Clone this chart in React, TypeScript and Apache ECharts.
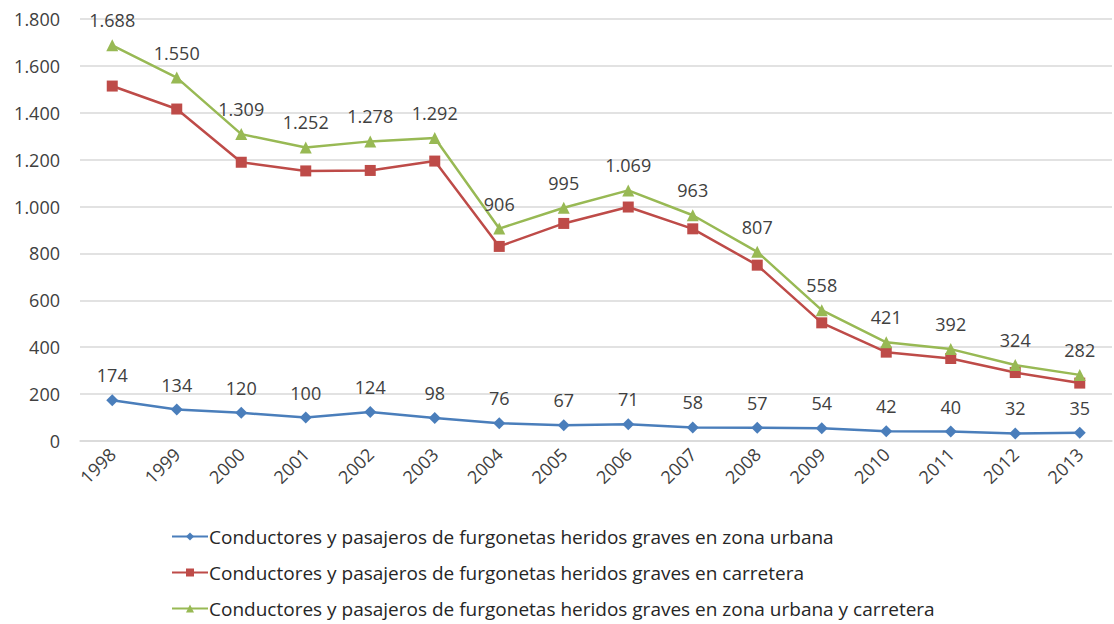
import React, { useEffect, useRef } from "react";
import * as echarts from "echarts";

const years = ["1998","1999","2000","2001","2002","2003","2004","2005","2006","2007","2008","2009","2010","2011","2012","2013"];
const urbana = [174,134,120,100,124,98,76,67,71,58,57,54,42,40,32,35];
const carretera = [1514,1416,1189,1152,1154,1194,830,928,998,905,750,504,379,352,292,247];
const total = [1688,1550,1309,1252,1278,1292,906,995,1069,963,807,558,421,392,324,282];
const seriesNames = [
  "Conductores y pasajeros de furgonetas heridos graves en zona urbana",
  "Conductores y pasajeros de furgonetas heridos graves en carretera",
  "Conductores y pasajeros de furgonetas heridos graves en zona urbana y carretera",
];

const fmt = (v: number) => String(v).replace(/\B(?=(\d{3})+(?!\d))/g, ".");
const FONT = "Open Sans";

export default function App() {
  const ref = useRef<HTMLDivElement>(null);
  useEffect(() => {
    if (!ref.current) return;
    const chart = echarts.init(ref.current, undefined, { renderer: "svg" });
    const label = {
      show: true,
      position: "top" as const,
      distance: 10,
      color: "#404040",
      fontSize: 18,
      fontFamily: FONT,
      formatter: (p: any) => fmt(p.value),
    };
    chart.setOption({
      animation: false,
      backgroundColor: "#ffffff",
      textStyle: { fontFamily: FONT },
      grid: { left: 80, right: 2, top: 19, height: 422, containLabel: false },
      legend: {
        orient: "vertical",
        left: 166,
        top: 522,
        itemGap: 17,
        itemWidth: 36,
        itemHeight: 10,
        textStyle: { fontSize: 19, color: "#262626", fontFamily: FONT, padding: [0, 0, 0, -4] },
        data: seriesNames,
      },
      xAxis: {
        type: "category",
        data: years,
        boundaryGap: true,
        axisLine: { show: true, lineStyle: { color: "#d9d9d9", width: 1.5 } },
        axisTick: { show: false },
        axisLabel: { rotate: 45, fontSize: 18, color: "#404040", fontFamily: FONT, margin: 10, interval: 0 },
      },
      yAxis: {
        type: "value",
        min: 0,
        max: 1800,
        interval: 200,
        axisLine: { show: false },
        axisTick: { show: false },
        splitLine: { lineStyle: { color: "#d9d9d9", width: 1.5 } },
        axisLabel: { fontSize: 18, color: "#404040", fontFamily: FONT, margin: 20, formatter: (v: number) => fmt(v) },
      },
      series: [
        {
          name: seriesNames[0],
          type: "line",
          data: urbana,
          symbol: "diamond",
          symbolSize: 12,
          lineStyle: { color: "#4a7ebb", width: 2.5 },
          itemStyle: { color: "#4a7ebb" },
          label,
        },
        {
          name: seriesNames[1],
          type: "line",
          data: carretera,
          symbol: "rect",
          symbolSize: 11,
          lineStyle: { color: "#be4b48", width: 2.5 },
          itemStyle: { color: "#be4b48" },
        },
        {
          name: seriesNames[2],
          type: "line",
          data: total,
          symbol: "triangle",
          symbolSize: 12,
          lineStyle: { color: "#98b954", width: 2.5 },
          itemStyle: { color: "#98b954" },
          label,
        },
      ],
    });
    return () => chart.dispose();
  }, []);
  return <div ref={ref} style={{ width: 1114, height: 624, position: "absolute", left: 0, top: 0 }} />;
}
